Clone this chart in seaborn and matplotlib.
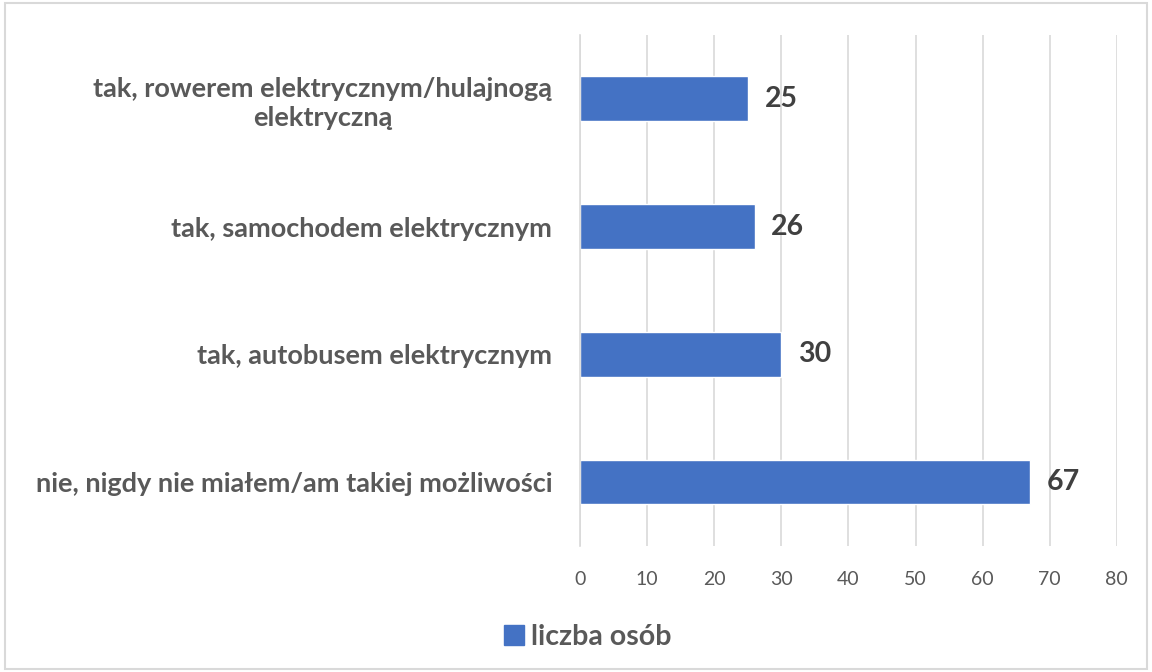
import pandas as pd
import seaborn as sns
import matplotlib.pyplot as plt
from matplotlib.patches import Patch

# data
categories = [
    "tak, rowerem elektrycznym/hulajnogą\nelektryczną",
    "tak, samochodem elektrycznym",
    "tak, autobusem elektrycznym",
    "nie, nigdy nie miałem/am takiej możliwości",
]
counts = [25, 26, 30, 67]
series_name = "liczba osób"
xticks = [0, 10, 20, 30, 40, 50, 60, 70, 80]

df = pd.DataFrame({"kategoria": categories, "liczba": counts})

sns.set_style("white")
plt.rcParams["font.family"] = ["Lato", "DejaVu Sans"]

bar_color = "#4472C4"
text_gray = "#595959"

fig = plt.figure(figsize=(11.52, 6.72), dpi=100)
ax = fig.add_axes([0.5035, 0.1875, 0.466, 0.7605])

sns.barplot(data=df, x="liczba", y="kategoria", orient="h",
            color=bar_color, width=0.35, saturation=1, ax=ax)

ax.set_xlim(0, 80)
ax.set_ylim(3.5, -0.5)
ax.set_xticks(xticks)
ax.set_xticklabels([str(t) for t in xticks], fontsize=14, color=text_gray)
ax.tick_params(axis="x", length=0, pad=18)
ax.tick_params(axis="y", length=0, pad=20)
for lab in ax.get_yticklabels():
    lab.set_fontsize(19.5)
    lab.set_fontweight("bold")
    lab.set_color(text_gray)
    lab.set_multialignment("center")
    lab.set_linespacing(1.25)
ax.set_xlabel("")
ax.set_ylabel("")

ax.grid(axis="x", color="#D9D9D9", linewidth=1.2)
ax.set_axisbelow(True)
for side in ["top", "right", "bottom"]:
    ax.spines[side].set_visible(False)
ax.spines["left"].set_color("#D9D9D9")
ax.spines["left"].set_linewidth(1.2)

ax.bar_label(ax.containers[0], padding=12, fontsize=20.5,
             fontweight="bold", color="#404040")

handle = Patch(facecolor=bar_color, edgecolor=bar_color)
leg = fig.legend([handle], [series_name], loc="center",
                 bbox_to_anchor=(0.51, 0.052), frameon=False,
                 prop={"size": 20.5, "weight": "bold"},
                 handlelength=0.7, handleheight=0.7, handletextpad=0.25)
for t in leg.get_texts():
    t.set_color(text_gray)

border = plt.Rectangle((0.004, 0.004), 0.992, 0.992, transform=fig.transFigure,
                       fill=False, edgecolor="#D9D9D9", linewidth=1.5)
fig.patches.append(border)

fig.savefig("out.png", dpi=100)
